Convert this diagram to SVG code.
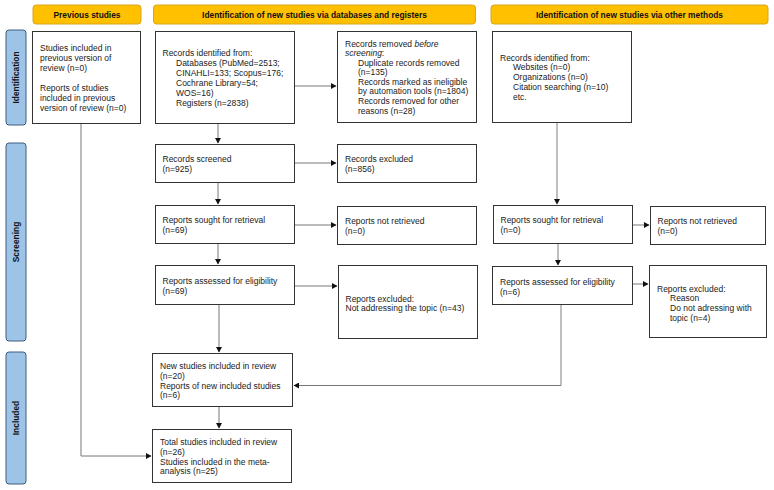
<svg xmlns="http://www.w3.org/2000/svg" width="774" height="490" viewBox="0 0 774 490">
<style>
text{font-family:"Liberation Sans",Arial,sans-serif;font-size:8.5px;fill:#222}
.hd{font-weight:bold;font-size:8.4px;text-anchor:middle;fill:#111}
.sd{font-weight:bold;font-size:8.4px;text-anchor:middle;fill:#111}
.hbar{fill:#FFC000;stroke:#D9A520;stroke-width:1}
.sbar{fill:#9DC3E6;stroke:#3F5F7F;stroke-width:1}
.box{fill:#fff;stroke:#333;stroke-width:1}
.ln{fill:none;stroke:#777;stroke-width:1}
.ln2{fill:none;stroke:#aaa;stroke-width:1.5}
</style>
<defs>
<marker id="ah" markerWidth="6" markerHeight="6" refX="5" refY="3" orient="auto" markerUnits="userSpaceOnUse">
<path d="M0,0 L5.5,3 L0,6 z" fill="#111"/>
</marker>
</defs>
<rect width="774" height="490" fill="#fff"/>

<g id="headers">
<rect class="hbar" x="33" y="5" width="108" height="19" rx="3"/>
<text class="hd" x="87" y="17.5">Previous studies</text>
<rect class="hbar" x="153.5" y="5" width="322" height="19" rx="3"/>
<text class="hd" x="314.5" y="17.5">Identification of new studies via databases and registers</text>
<rect class="hbar" x="491" y="5" width="277" height="19" rx="3"/>
<text class="hd" x="629.5" y="17.5">Identification of new studies via other methods</text>
</g>

<g id="sidebars">
<rect class="sbar" x="6" y="30" width="20" height="95" rx="3"/>
<text class="sd" transform="translate(19,77.5) rotate(-90)">Identification</text>
<rect class="sbar" x="6" y="143" width="20" height="198" rx="3"/>
<text class="sd" transform="translate(19,242) rotate(-90)">Screening</text>
<rect class="sbar" x="6" y="352" width="20" height="132" rx="3"/>
<text class="sd" transform="translate(19,418) rotate(-90)">Included</text>
</g>

<g id="connectors">
<path class="ln" d="M81,124 V456 H151" marker-end="url(#ah)"/>
<path class="ln" d="M218,124 V143" marker-end="url(#ah)"/>
<path class="ln" d="M295,86 H336" marker-end="url(#ah)"/>
<path class="ln" d="M295,163 H336" marker-end="url(#ah)"/>
<path class="ln" d="M218,183 V204" marker-end="url(#ah)"/>
<path class="ln" d="M295,225 H336" marker-end="url(#ah)"/>
<path class="ln" d="M218,244 V264" marker-end="url(#ah)"/>
<path class="ln" d="M295,286 H337" marker-end="url(#ah)"/>
<path class="ln" d="M219,305 V352" marker-end="url(#ah)"/>
<path class="ln" d="M219,407 V428" marker-end="url(#ah)"/>
<path class="ln2" d="M557,123 V204" marker-end="url(#ah)"/>
<path class="ln" d="M633,225 H649" marker-end="url(#ah)"/>
<path class="ln2" d="M558,244 V265" marker-end="url(#ah)"/>
<path class="ln" d="M633,284 H648" marker-end="url(#ah)"/>
<path class="ln2" d="M561,305 V385.5"/>
<path class="ln" d="M561,385.5 H294" marker-end="url(#ah)"/>
</g>

<g id="prev">
<rect class="box" x="32.5" y="31.5" width="108" height="92"/>
<text x="40" y="51">Studies included in</text>
<text x="40" y="61">previous version of</text>
<text x="40" y="71">review (n=0)</text>
<text x="40" y="90.5">Reports of studies</text>
<text x="40" y="100.5">included in previous</text>
<text x="40" y="110.5">version of review (n=0)</text>
</g>

<g id="records-identified">
<rect class="box" x="155.5" y="31.5" width="139" height="92"/>
<text x="162.5" y="55.5">Records identified from:</text>
<text x="176" y="65.5">Databases (PubMed=2513;</text>
<text x="176" y="75.5">CINAHLI=133; Scopus=176;</text>
<text x="176" y="85.5">Cochrane Library=54;</text>
<text x="176" y="95.5">WOS=16)</text>
<text x="176" y="105.5">Registers (n=2838)</text>
</g>

<g id="records-removed">
<rect class="box" x="337.5" y="31.5" width="139" height="91"/>
<text x="345" y="46.5">Records removed <tspan font-style="italic">before</tspan></text>
<text x="345" y="56" font-style="italic">screening<tspan font-style="normal">:</tspan></text>
<text x="358" y="65.5">Duplicate records removed</text>
<text x="358" y="75">(n=135)</text>
<text x="358" y="84.7">Records marked as ineligible</text>
<text x="358" y="94.3">by automation tools (n=1804)</text>
<text x="358" y="104">Records removed for other</text>
<text x="358" y="113.7">reasons (n=28)</text>
</g>

<g id="other-identified">
<rect class="box" x="492.5" y="31.5" width="139" height="91"/>
<text x="500" y="60.5">Records identified from:</text>
<text x="513" y="70.3">Websites (n=0)</text>
<text x="513" y="80">Organizations (n=0)</text>
<text x="513" y="89.7">Citation searching (n=10)</text>
<text x="513" y="99.5">etc.</text>
</g>

<g id="records-screened">
<rect class="box" x="155.5" y="144.5" width="139" height="38"/>
<text x="162.5" y="162">Records screened</text>
<text x="162.5" y="172">(n=925)</text>
</g>

<g id="records-excluded">
<rect class="box" x="337.5" y="144.5" width="139" height="38"/>
<text x="345" y="162">Records excluded</text>
<text x="345" y="172">(n=856)</text>
</g>

<g id="sought-db">
<rect class="box" x="155.5" y="205.5" width="139" height="38"/>
<text x="162.5" y="223">Reports sought for retrieval</text>
<text x="162.5" y="233">(n=69)</text>
</g>

<g id="notret-db">
<rect class="box" x="337.5" y="206.5" width="139" height="38"/>
<text x="345" y="223.5">Reports not retrieved</text>
<text x="345" y="233.5">(n=0)</text>
</g>

<g id="sought-other">
<rect class="box" x="493.5" y="205.5" width="139" height="38"/>
<text x="500.5" y="223">Reports sought for retrieval</text>
<text x="500.5" y="233">(n=0)</text>
</g>

<g id="notret-other">
<rect class="box" x="650.5" y="206.5" width="115" height="38"/>
<text x="657.5" y="223.5">Reports not retrieved</text>
<text x="657.5" y="233.5">(n=0)</text>
</g>

<g id="assessed-db">
<rect class="box" x="155.5" y="265.5" width="139" height="39"/>
<text x="162.5" y="284">Reports assessed for eligibility</text>
<text x="162.5" y="294">(n=69)</text>
</g>

<g id="excluded-db">
<rect class="box" x="338.5" y="265.5" width="139" height="73"/>
<text x="345.5" y="301.5">Reports excluded:</text>
<text x="345.5" y="311">Not addressing the topic (n=43)</text>
</g>

<g id="assessed-other">
<rect class="box" x="492.5" y="266.5" width="140" height="38"/>
<text x="500" y="284.5">Reports assessed for eligibility</text>
<text x="500" y="294.5">(n=6)</text>
</g>

<g id="excluded-other">
<rect class="box" x="649.5" y="265.5" width="117" height="72"/>
<text x="657" y="291.5">Reports excluded:</text>
<text x="670" y="301.3">Reason</text>
<text x="670" y="311">Do not adressing with</text>
<text x="670" y="320.7">topic (n=4)</text>
</g>

<g id="new-included">
<rect class="box" x="152.5" y="353.5" width="140" height="53"/>
<text x="160" y="369">New studies included in review</text>
<text x="160" y="378.8">(n=20)</text>
<text x="160" y="388.6">Reports of new included studies</text>
<text x="160" y="398.4">(n=6)</text>
</g>

<g id="total">
<rect class="box" x="152.5" y="429.5" width="139" height="53"/>
<text x="160" y="445">Total studies included in review</text>
<text x="160" y="454.8">(n=26)</text>
<text x="160" y="464.6">Studies included in the meta-</text>
<text x="160" y="474.4">analysis (n=25)</text>
</g>
</svg>
